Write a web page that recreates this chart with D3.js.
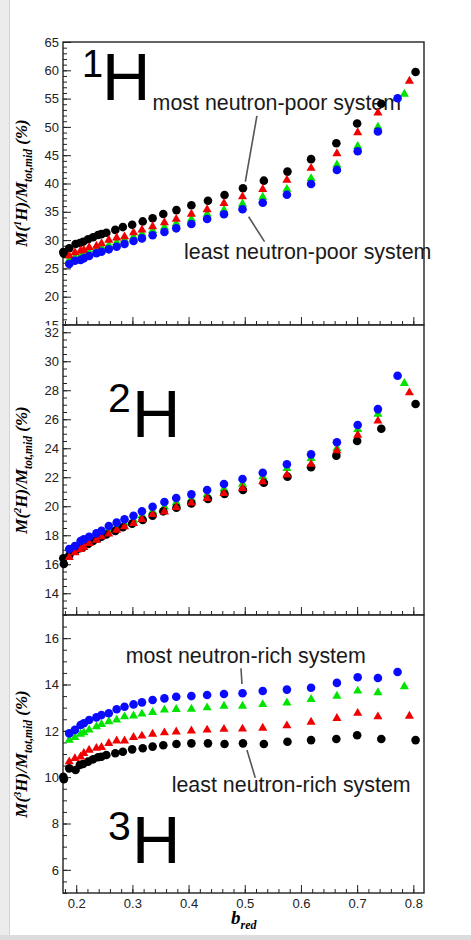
<!DOCTYPE html>
<html>
<head>
<meta charset="utf-8">
<script src="https://cdn.jsdelivr.net/npm/d3@7"></script>
<style>
  html, body { margin: 0; padding: 0; background: #fff; }
  svg { display: block; font-family: "Liberation Sans", Arial, sans-serif; }
</style>
</head>
<body>
<svg id="chart"></svg>
<script>
const width = 471;
const height = 940;

// b_red positions of the blue / green / red sets (last point differs per set)
const xBase = [0.1876, 0.1977, 0.2078, 0.2136, 0.223, 0.236, 0.245, 0.258, 0.272, 0.286,
  0.302, 0.317, 0.336, 0.357, 0.378, 0.405, 0.433, 0.463, 0.496, 0.532, 0.575, 0.618,
  0.664, 0.701, 0.737];
const xBlue = xBase.concat([0.772]);
const xGreen = xBase.concat([0.784]);
const xRed = xBase.concat([0.793]);
const xBlack = [0.177, 0.178, 0.1876, 0.1989, 0.2065, 0.2124, 0.2212, 0.23, 0.2389, 0.2449,
  0.2537, 0.2696, 0.283, 0.2996, 0.3184, 0.336, 0.355, 0.3784, 0.405, 0.4345, 0.464,
  0.4968, 0.534, 0.576, 0.618, 0.663, 0.700, 0.743, 0.804];

// 1H
const h1Black = [27.9, 27.6, 28.55, 29.3, 29.5, 29.7, 30.14, 30.5, 30.9, 31.05, 31.3, 31.8,
  32.3, 32.7, 33.3, 33.85, 34.6, 35.3, 36.15, 36.96, 37.97, 39.15, 40.5, 42.1, 44.3, 47.1,
  50.6, 54.1, 59.7];
const h1Red = [27.2, 27.8, 28.1, 28.25, 28.7, 28.95, 29.4, 30.0, 30.4, 30.6, 31.3, 31.8, 32.4,
  33.1, 33.7, 34.6, 35.4, 36.5, 37.67, 38.97, 40.6, 42.7, 45.3, 49.0, 52.5, 58.1];
const h1Green = [26.5, 27.0, 27.2, 27.5, 27.9, 28.4, 28.7, 29.1, 29.6, 30.1, 30.6, 31.1, 31.7,
  32.3, 32.9, 33.7, 34.6, 35.3, 36.4, 37.6, 39.0, 40.9, 43.3, 46.6, 50.0, 55.8];
const h1Blue = [25.78, 26.36, 26.48, 26.78, 27.2, 27.67, 27.95, 28.37, 28.83, 29.3, 29.84,
  30.3, 30.85, 31.43, 32.08, 32.84, 33.73, 34.56, 35.44, 36.6, 38.0, 39.9, 42.4, 45.7, 49.2, 55.05];

// 2H
const h2Black = [16.41, 16.02, 16.6, 16.95, 17.1, 17.2, 17.4, 17.6, 17.8, 17.9, 18.05, 18.3,
  18.55, 18.8, 19.05, 19.35, 19.65, 19.9, 20.2, 20.5, 20.85, 21.12, 21.62, 22.04, 22.69,
  23.49, 24.5, 25.35, 27.05];
const h2Red = [16.48, 16.8, 17.03, 17.17, 17.44, 17.67, 17.9, 18.09, 18.36, 18.59, 18.82,
  19.1, 19.44, 19.62, 19.93, 20.24, 20.55, 20.89, 21.24, 21.7, 22.16, 22.9, 23.83, 24.91,
  25.88, 27.83];
const h2Green = [16.75, 16.95, 17.3, 17.45, 17.6, 17.85, 18.05, 18.35, 18.6, 18.8, 19.05,
  19.35, 19.65, 19.95, 20.25, 20.5, 20.8, 21.2, 21.53, 22.04, 22.62, 23.3, 23.99, 25.3,
  26.36, 28.48];
const h2Blue = [17.05, 17.26, 17.6, 17.72, 17.9, 18.13, 18.31, 18.64, 18.87, 19.1, 19.35,
  19.65, 19.97, 20.29, 20.57, 20.82, 21.12, 21.53, 21.88, 22.31, 22.9, 23.58, 24.41, 25.6,
  26.7, 29.0];

// 3H
const h3Black = [10.02, 9.91, 10.38, 10.31, 10.53, 10.57, 10.67, 10.77, 10.86, 10.88, 10.96,
  11.03, 11.1, 11.2, 11.25, 11.32, 11.38, 11.43, 11.46, 11.46, 11.43, 11.46, 11.43, 11.53,
  11.6, 11.65, 11.81, 11.65, 11.6];
const h3Red = [10.67, 10.81, 10.88, 11.03, 11.17, 11.25, 11.29, 11.46, 11.57, 11.57, 11.72,
  11.78, 11.86, 11.92, 11.96, 12.0, 12.04, 12.07, 12.08, 12.12, 12.22, 12.38, 12.54, 12.76,
  12.61, 12.64];
const h3Green = [11.6, 11.72, 11.86, 11.92, 12.04, 12.18, 12.28, 12.4, 12.47, 12.61, 12.65,
  12.73, 12.8, 12.9, 12.93, 12.94, 13.0, 13.07, 13.07, 13.14, 13.21, 13.36, 13.5, 13.72,
  13.65, 13.91];
const h3Blue = [11.89, 12.04, 12.25, 12.33, 12.47, 12.58, 12.68, 12.76, 12.93, 13.04, 13.14,
  13.23, 13.33, 13.4, 13.47, 13.5, 13.55, 13.59, 13.62, 13.72, 13.78, 13.86, 14.07, 14.31,
  14.28, 14.54];

const xMajor = [0.2, 0.3, 0.4, 0.5, 0.6, 0.7, 0.8];

const svg = d3.select('#chart')
  .attr('width', width)
  .attr('height', height);

// screenshot border shading
svg.append('rect').attr('x', 0).attr('y', 0).attr('width', 9).attr('height', height).attr('fill', '#ececec');
svg.append('line').attr('x1', 9.5).attr('x2', 9.5).attr('y1', 0).attr('y2', height).attr('stroke', '#d4d4d4');
svg.append('rect').attr('x', 0).attr('y', 935).attr('width', width).attr('height', 5).attr('fill', '#dcdcdc');

const left = 63, right = 424;
const x = d3.scaleLinear().domain([0.1765, 0.819]).range([left, right]);

const colors = {black: '#000000', red: '#f00000', green: '#00e400', blue: '#0a0aff'};

const panels = [
  {top: 42, bottom: 325, domain: [15, 65], major: 5, minor: 1, iso: '1', labelY: 183,
   black: h1Black, red: h1Red, green: h1Green, blue: h1Blue,
   sup: [82, 77, 38], big: [102, 100],
   notes: [
     {text: 'most neutron-poor system', tx: 0.336, ty: 53.0, line: [0.5216, 51.93, 0.501, 40.32]},
     {text: 'least neutron-poor system', tx: 0.392, ty: 26.6, line: [0.5069, 34.13, 0.5352, 29.72]}
   ]},
  {top: 325, bottom: 615, domain: [12.5, 32.5], major: 2, minor: 0.5, iso: '2', labelY: 470,
   black: h2Black, red: h2Red, green: h2Green, blue: h2Blue,
   sup: [108, 412, 41], big: [132, 437], notes: []},
  {top: 615, bottom: 893, domain: [5, 17], major: 2, minor: 0.5, iso: '3', labelY: 754,
   black: h3Black, red: h3Red, green: h3Green, blue: h3Blue,
   sup: [108, 840, 41], big: [132, 863],
   notes: [
     {text: 'most neutron-rich system', tx: 0.288, ty: 14.92, line: [0.4933, 14.7, 0.495, 14.02]},
     {text: 'least neutron-rich system', tx: 0.370, ty: 9.37, line: [0.5039, 11.17, 0.5187, 9.97]}
   ]}
];

const stepRange = (lo, hi, step) => d3.range(Math.ceil(lo / step - 1e-9), Math.floor(hi / step + 1e-9) + 1)
  .map(i => +(i * step).toFixed(4));

panels.forEach((p, i) => {
  const g = svg.append('g');
  const y = d3.scaleLinear().domain(p.domain).range([p.bottom, p.top]);

  // white backdrop so each panel hides the overhanging label of the one above
  g.append('rect')
    .attr('x', 10).attr('y', p.top + (i ? 0.5 : -20))
    .attr('width', width - 10).attr('height', p.bottom - p.top - (i ? 0.5 : -20))
    .attr('fill', '#fff');

  // y axis: minor + major ticks pointing into the plot
  const yMinor = d3.axisLeft(y)
    .tickValues(stepRange(p.domain[0], p.domain[1], p.minor))
    .tickSize(-4).tickFormat('');
  const yMajor = d3.axisLeft(y)
    .tickValues(stepRange(p.domain[0], p.domain[1], p.major))
    .tickSize(-8).tickPadding(4);

  g.append('g').attr('transform', `translate(${left},0)`).call(yMinor);
  const ya = g.append('g').attr('transform', `translate(${left},0)`).call(yMajor);
  ya.selectAll('text').style('font-size', '13px').attr('fill', '#222');

  // x axis at the panel bottom
  const xMinor = d3.axisBottom(x)
    .tickValues(stepRange(0.18, 0.818, 0.02))
    .tickSize(-4).tickFormat('');
  const xMaj = d3.axisBottom(x)
    .tickValues(xMajor)
    .tickSize(-8).tickPadding(6)
    .tickFormat(i === 2 ? d3.format('.1f') : '');

  g.append('g').attr('transform', `translate(0,${p.bottom})`).call(xMinor);
  const xa = g.append('g').attr('transform', `translate(0,${p.bottom})`).call(xMaj);
  xa.selectAll('text').style('font-size', '13px').attr('fill', '#222');

  g.selectAll('.domain').remove();
  g.selectAll('.tick line').attr('stroke', '#222').attr('stroke-width', 1);

  // frame
  g.append('rect')
    .attr('x', left).attr('y', p.top)
    .attr('width', right - left).attr('height', p.bottom - p.top)
    .attr('fill', 'none').attr('stroke', '#222').attr('stroke-width', 1.4);

  // y title
  const t = g.append('text')
    .attr('transform', `translate(27,${p.labelY}) rotate(-90)`)
    .attr('text-anchor', 'middle')
    .style('font-family', '"Liberation Serif", "Times New Roman", serif')
    .style('font-weight', 'bold').style('font-style', 'italic')
    .style('font-size', '17px');
  t.append('tspan').text('M(');
  t.append('tspan').attr('dy', -6).style('font-size', '10.5px').text(p.iso);
  t.append('tspan').attr('dy', 6).text('H)/M');
  t.append('tspan').attr('dy', 5).style('font-size', '11.5px').text('tot,mid');
  t.append('tspan').attr('dy', -5).text(' (%)');

  // isotope label
  g.append('text').attr('x', p.sup[0]).attr('y', p.sup[1])
    .style('font-size', p.sup[2] + 'px').text(p.iso);
  g.append('text').attr('x', p.big[0]).attr('y', p.big[1])
    .style('font-size', '67px').text('H');

  // annotations
  p.notes.forEach(n => {
    g.append('line')
      .attr('x1', x(n.line[0])).attr('y1', y(n.line[1]))
      .attr('x2', x(n.line[2])).attr('y2', y(n.line[3]))
      .attr('stroke', '#555').attr('stroke-width', 1.6);
    g.append('text')
      .attr('x', x(n.tx)).attr('y', y(n.ty))
      .style('font-size', '21.4px').attr('fill', '#1a1a1a')
      .text(n.text);
  });

  // data: green, black, red, blue (drawing order as in the figure)
  const series = [
    {xs: xGreen, ys: p.green, color: colors.green, tri: true},
    {xs: xBlack, ys: p.black, color: colors.black, tri: false},
    {xs: xRed, ys: p.red, color: colors.red, tri: true},
    {xs: xBlue, ys: p.blue, color: colors.blue, tri: false}
  ];
  const tri = d3.symbol(d3.symbolTriangle, 36);

  series.forEach(s => {
    const pts = s.xs.map((xv, k) => ({x: xv, y: s.ys[k]}));
    if (s.tri) {
      g.append('g').selectAll('path').data(pts).enter()
        .append('path')
        .attr('d', tri)
        .attr('transform', d => `translate(${x(d.x)},${y(d.y)})`)
        .attr('fill', s.color);
    } else {
      g.append('g').selectAll('circle').data(pts).enter()
        .append('circle')
        .attr('cx', d => x(d.x)).attr('cy', d => y(d.y))
        .attr('r', 4.3)
        .attr('fill', s.color);
    }
  });
});

// x title
const xt = svg.append('text')
  .attr('x', 231).attr('y', 924)
  .style('font-family', '"Liberation Serif", "Times New Roman", serif')
  .style('font-weight', 'bold').style('font-style', 'italic')
  .style('font-size', '19px');
xt.append('tspan').text('b');
xt.append('tspan').attr('dy', 5).style('font-size', '12px').text('red');
</script>
</body>
</html>
